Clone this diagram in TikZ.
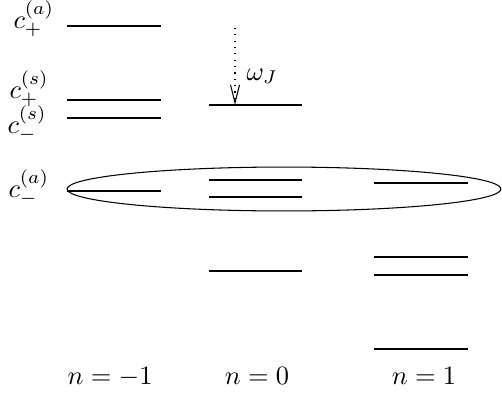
\documentclass[tikz,border=0pt]{standalone}
\usetikzlibrary{arrows.meta}
\begin{document}
\begin{tikzpicture}[x=0.378pt,y=-0.378pt,
  level/.style={line width=0.5pt},
  lbl/.style={inner sep=0pt,anchor=base west},
  nlbl/.style={inner sep=0pt,anchor=base}]
\useasboundingbox (0,0) rectangle (502,408);
% column n=-1
\draw[level] (67,26) -- (161,26);
\draw[level] (67,100) -- (161,100);
\draw[level] (67,118) -- (161,118);
\draw[level] (67,191) -- (161,191);
% column n=0
\draw[level] (209,105) -- (302,105);
\draw[level] (209,180) -- (302,180);
\draw[level] (209,197) -- (302,197);
\draw[level] (209,271) -- (302,271);
% column n=1
\draw[level] (374,183) -- (468,183);
\draw[level] (374,257) -- (468,257);
\draw[level] (374,275) -- (468,275);
\draw[level] (374,349) -- (468,349);
% labels
\node[lbl] (cpa) at (13,28) {$c_+^{(a)}$};
\node[lbl] (cps) at (9,98) {$c_+^{(s)}$};
\node[lbl] (cms) at (7,133) {$c_-^{(s)}$};
\node[lbl] (cma) at (8,197) {$c_-^{(a)}$};
% arrow
\coordinate (atop) at (235,28);
\coordinate (abot) at (235,105);
\draw[dotted,-{Straight Barb[length=6.8pt,width=3.4pt]}] (atop) -- (abot);
\node[lbl] (om) at (246,80) {$\omega_J$};
% ellipse
\draw (284,189) ellipse [x radius=82pt, y radius=8.3pt];
% bottom labels
\node[nlbl] (nm1) at (110,384) {$n=-1$};
\node[nlbl] (n0) at (257,384) {$n=0$};
\node[nlbl] (n1) at (424,384) {$n=1$};
\end{tikzpicture}
\end{document}
